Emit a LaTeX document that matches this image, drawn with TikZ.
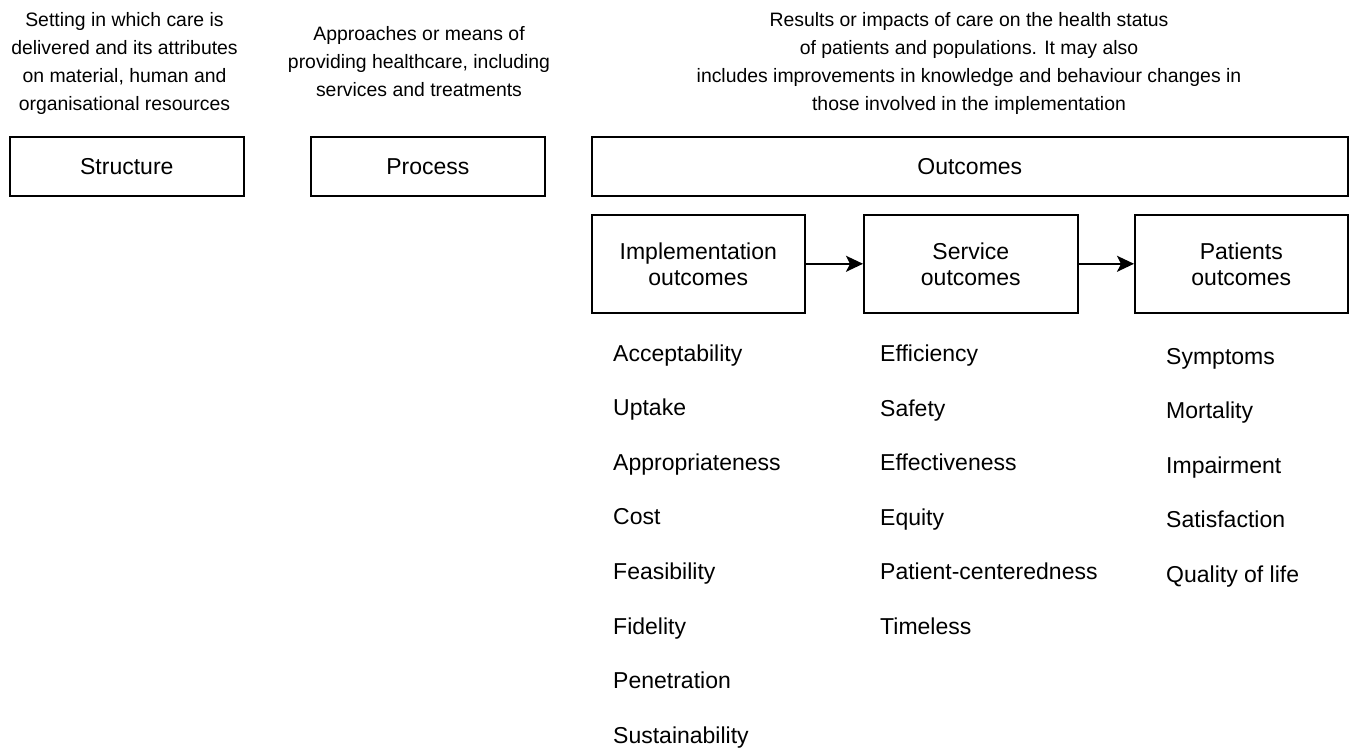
\documentclass[tikz,border=0pt]{standalone}
\usepackage{fontspec}
\setmainfont{Liberation Sans}
\usetikzlibrary{arrows.meta}
\begin{document}
\begin{tikzpicture}[x=1pt,y=-1pt,
  box/.style={draw=black, line width=1.6pt, inner sep=0pt, anchor=north west, align=center, font=\fontsize{23}{26}\selectfont},
  desc/.style={align=center, inner sep=0pt, font=\fontsize{19.4}{28}\selectfont},
  item/.style={anchor=base west, inner sep=0pt, font=\fontsize{23}{26}\selectfont},
  conn/.style={line width=1.6pt, -{Stealth[length=17pt,width=16pt,inset=4pt]}}]
\useasboundingbox (0,0) rectangle (1351,749);

% descriptions
\node[desc] (dstructure) at (124.5,63) {Setting in which care is\\delivered and its attributes\\on material, human and\\organisational resources};
\node[desc] (dprocess) at (419,62) {Approaches or means of\\providing healthcare, including\\services and treatments};
\node[desc] (doutcomes) at (969,63) {Results or impacts of care on the health status\\of patients and populations. It may also\\includes improvements in knowledge and behaviour changes in\\those involved in the implementation};

% top row boxes
\node[box, minimum width=234pt, minimum height=59pt] (structure) at (9,136) {Structure};
\node[box, minimum width=234pt, minimum height=59pt] (process) at (310,136) {Process};
\node[box, minimum width=756pt, minimum height=59pt] (outcomes) at (591,136) {Outcomes};

% second row boxes
\node[box, minimum width=213pt, minimum height=98pt] (impl) at (591,214) {Implementation\\outcomes};
\node[box, minimum width=214pt, minimum height=98pt] (service) at (863,214) {Service\\outcomes};
\node[box, minimum width=213pt, minimum height=98pt] (patients) at (1134,214) {Patients\\outcomes};

\draw[conn] (impl) -- (service);
\draw[conn] (service) -- (patients);

% implementation outcomes list
\node[item] (i1) at (613,361) {Acceptability};
\node[item] (i2) at (613,415.6) {Uptake};
\node[item] (i3) at (613,470.2) {Appropriateness};
\node[item] (i4) at (613,524.8) {Cost};
\node[item] (i5) at (613,579.4) {Feasibility};
\node[item] (i6) at (613,634) {Fidelity};
\node[item] (i7) at (613,688.6) {Penetration};
\node[item] (i8) at (613,743.2) {Sustainability};

% service outcomes list
\node[item] (s1) at (880,361.5) {Efficiency};
\node[item] (s2) at (880,416.1) {Safety};
\node[item] (s3) at (880,470.7) {Effectiveness};
\node[item] (s4) at (880,525.3) {Equity};
\node[item] (s5) at (880,579.9) {Patient-centeredness};
\node[item] (s6) at (880,634.5) {Timeless};

% patients outcomes list
\node[item] (p1) at (1166,364) {Symptoms};
\node[item] (p2) at (1166,418.6) {Mortality};
\node[item] (p3) at (1166,473.2) {Impairment};
\node[item] (p4) at (1166,527.8) {Satisfaction};
\node[item] (p5) at (1166,582.4) {Quality of life};
\end{tikzpicture}
\end{document}
